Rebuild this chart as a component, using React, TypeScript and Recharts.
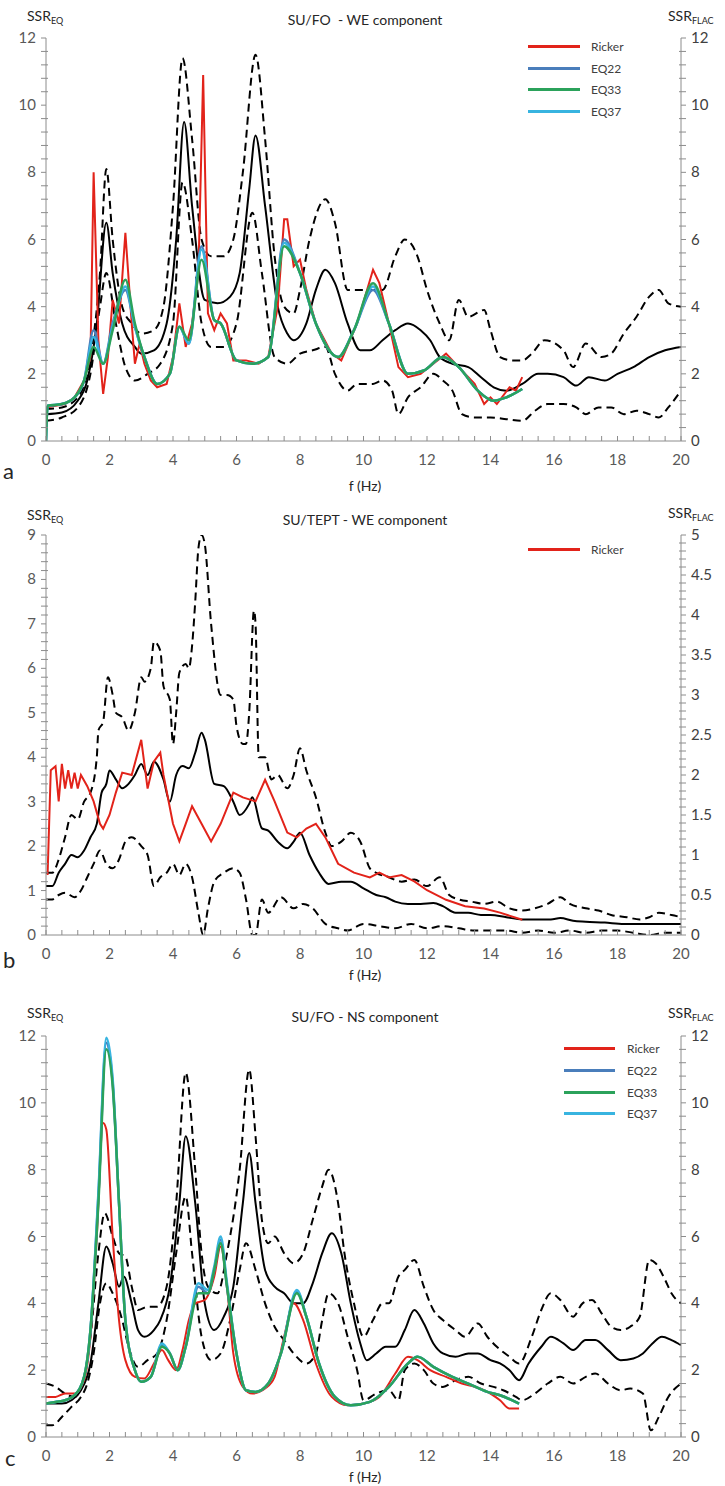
import React from 'react'
import { LineChart, Line, XAxis, YAxis, Legend } from 'recharts'

type Pt = [number, number]

// ---- panel a : SU/FO - WE component (SSR, 0..12 on both axes)
const aMean: Pt[] = [[0,0.8],[0.5,0.85],[1.0,1.2],[1.3,1.8],[1.6,3.5],[1.9,6.5],[2.1,5],[2.4,3.5],[2.8,2.8],[3.0,2.6],[3.4,2.7],[3.8,3.5],[4.1,6],[4.35,9.5],[4.6,7],[5.0,4.2],[5.4,4.1],[5.8,4.3],[6.1,5],[6.4,7.5],[6.6,9.1],[6.9,7],[7.3,4],[7.6,3.2],[7.8,3.0],[8.2,3.5],[8.5,4.5],[8.8,5.1],[9.1,4.7],[9.5,3.5],[9.9,2.7],[10.2,2.7],[10.6,3.0],[11.0,3.3],[11.4,3.5],[11.8,3.3],[12.1,3.0],[12.4,2.5],[12.8,2.3],[13.3,2.2],[13.7,1.9],[14.1,1.6],[14.5,1.5],[15.0,1.7],[15.5,2.0],[15.8,2.0],[16.3,1.9],[16.7,1.65],[17.1,1.9],[17.6,1.8],[18.0,2.0],[18.5,2.2],[19.0,2.5],[19.5,2.7],[20,2.8]]
const aUpper: Pt[] = [[0,0.95],[0.5,1.0],[1.0,1.3],[1.4,2.5],[1.7,5],[1.9,8.1],[2.1,6],[2.4,4],[2.7,3.5],[3.0,3.2],[3.4,3.3],[3.7,4],[4.0,7],[4.3,11.4],[4.6,9],[4.9,6],[5.2,5.5],[5.6,5.5],[5.9,6],[6.2,8],[6.6,11.5],[6.9,9],[7.2,5.5],[7.5,4],[7.8,3.8],[8.0,4.5],[8.3,6],[8.8,7.2],[9.1,6.5],[9.5,4.5],[10.2,4.5],[10.6,4.5],[11.0,5.5],[11.3,6.0],[11.7,5.5],[12.0,4.5],[12.4,3.5],[12.7,3],[13.0,4.2],[13.3,3.7],[13.8,3.9],[14.0,3.3],[14.3,2.5],[14.7,2.4],[15.0,2.4],[15.3,2.6],[15.7,3.0],[16.3,2.7],[16.6,2.2],[17.0,2.9],[17.5,2.5],[17.8,2.6],[18.2,3.2],[18.6,3.7],[19.0,4.3],[19.3,4.5],[19.6,4.1],[20,4.0]]
const aLower: Pt[] = [[0,0.6],[0.5,0.7],[1.0,1.0],[1.4,2.0],[1.7,4],[1.9,5],[2.2,3.5],[2.5,2.2],[2.8,1.8],[3.2,2.0],[3.6,2.3],[4.0,3.5],[4.3,7.7],[4.6,6],[4.9,3.5],[5.2,2.8],[5.6,2.8],[6.0,3.5],[6.5,6.8],[6.8,5],[7.2,2.5],[7.6,2.3],[8.0,2.6],[8.4,2.7],[8.8,2.8],[9.1,2.0],[9.5,1.5],[9.8,1.7],[10.3,1.7],[10.6,1.8],[10.9,1.5],[11.1,0.8],[11.4,1.3],[11.8,1.6],[12.2,2.0],[12.5,1.8],[12.8,1.5],[13.1,0.8],[13.5,0.7],[14.0,0.7],[14.5,0.65],[15.0,0.6],[15.4,0.9],[15.8,1.1],[16.3,1.1],[16.7,1.0],[17.0,0.8],[17.4,1.0],[17.8,1.0],[18.2,0.8],[18.6,0.9],[19.0,0.8],[19.3,0.7],[19.6,1.0],[20,1.5]]
const aRicker: Pt[] = [[0,1.0],[0.3,1.05],[0.6,1.1],[0.9,1.3],[1.2,1.8],[1.4,2.5],[1.5,8.0],[1.65,3],[1.8,1.4],[1.95,2.5],[2.1,4.2],[2.3,3.5],[2.5,6.2],[2.7,3.5],[2.8,2.3],[2.95,2.9],[3.1,2.3],[3.3,1.8],[3.5,1.6],[3.8,1.7],[4.0,2.5],[4.2,4.1],[4.4,2.8],[4.6,3.5],[4.8,5],[4.95,10.9],[5.1,3.8],[5.3,3.3],[5.5,3.8],[5.7,3.5],[5.9,2.4],[6.3,2.4],[6.7,2.3],[7.0,2.5],[7.3,4],[7.5,6.6],[7.6,6.6],[7.8,5.2],[8.0,5.4],[8.2,4.5],[8.5,3.5],[9.0,2.6],[9.3,2.4],[9.8,3.5],[10.3,5.1],[10.5,4.7],[10.8,3.5],[11.1,2.2],[11.4,1.9],[11.8,2.0],[12.2,2.3],[12.6,2.6],[13.0,2.2],[13.5,1.7],[13.8,1.1],[14.0,1.3],[14.2,1.1],[14.6,1.6],[14.8,1.5],[15.0,1.9]]
const aEq22: Pt[] = [[0,0],[0.05,1.05],[0.5,1.1],[0.9,1.3],[1.2,1.8],[1.5,3.3],[1.8,2.3],[2.1,3.5],[2.5,4.5],[2.8,3.4],[3.1,2.5],[3.5,1.7],[3.9,2.0],[4.2,3.4],[4.5,2.9],[4.9,5.8],[5.3,3.6],[5.5,3.5],[6.0,2.4],[6.5,2.3],[7.0,2.5],[7.5,6.0],[8.0,5.0],[8.5,3.5],[9.2,2.5],[9.7,3.3],[10.3,4.5],[10.8,3.5],[11.4,2.0],[11.9,2.1],[12.5,2.5],[13.0,2.2],[13.6,1.5],[14.1,1.2],[14.5,1.3],[15,1.55]]
const aEq33: Pt[] = [[0,0],[0.05,1.05],[0.5,1.1],[0.9,1.3],[1.2,1.8],[1.5,2.8],[1.8,2.3],[2.1,3.3],[2.5,4.8],[2.8,3.5],[3.1,2.5],[3.5,1.7],[3.9,2.0],[4.2,3.4],[4.5,3.0],[4.9,5.4],[5.3,3.6],[5.5,3.5],[6.0,2.4],[6.5,2.3],[7.0,2.5],[7.5,5.8],[8.0,5.0],[8.5,3.5],[9.2,2.5],[9.7,3.3],[10.3,4.7],[10.8,3.5],[11.4,2.0],[11.9,2.1],[12.5,2.5],[13.0,2.2],[13.6,1.5],[14.1,1.2],[14.5,1.3],[15,1.55]]
const aEq37: Pt[] = [[0,0],[0.05,1.05],[0.5,1.1],[0.9,1.3],[1.2,1.8],[1.5,3.1],[1.8,2.3],[2.1,3.4],[2.5,4.6],[2.8,3.4],[3.1,2.5],[3.5,1.7],[3.9,2.0],[4.2,3.4],[4.5,2.9],[4.9,5.7],[5.3,3.6],[5.5,3.5],[6.0,2.4],[6.5,2.3],[7.0,2.5],[7.5,5.9],[8.0,5.0],[8.5,3.5],[9.2,2.5],[9.7,3.3],[10.3,4.6],[10.8,3.5],[11.4,2.0],[11.9,2.1],[12.5,2.5],[13.0,2.2],[13.6,1.5],[14.1,1.2],[14.5,1.3],[15,1.55]]

// ---- panel b : SU/TEPT - WE component (SSR_EQ 0..9, SSR_FLAC 0..5)
const bMean: Pt[] = [[0,1.1],[0.2,1.1],[0.4,1.4],[0.6,1.6],[0.8,1.8],[1.0,1.75],[1.2,1.9],[1.4,2.2],[1.6,2.5],[1.75,3.2],[1.9,3.4],[2.0,3.7],[2.2,3.5],[2.4,3.3],[2.6,3.4],[2.8,3.6],[3.0,3.85],[3.2,3.6],[3.4,3.9],[3.7,3.5],[3.9,3.0],[4.1,3.6],[4.3,3.8],[4.5,3.75],[4.7,4.1],[4.9,4.55],[5.0,4.4],[5.3,3.4],[5.6,3.35],[5.9,3.0],[6.1,2.7],[6.4,2.95],[6.5,3.1],[6.8,2.4],[7.0,2.35],[7.3,2.1],[7.6,1.95],[7.8,2.1],[8.0,2.3],[8.3,1.8],[8.6,1.4],[8.9,1.15],[9.3,1.2],[9.6,1.2],[10.0,1.05],[10.4,0.9],[10.7,0.85],[11.0,0.75],[11.4,0.7],[11.8,0.7],[12.2,0.72],[12.5,0.65],[12.9,0.5],[13.3,0.5],[13.7,0.45],[14.0,0.45],[14.5,0.4],[15.0,0.35],[15.5,0.35],[15.9,0.35],[16.2,0.38],[16.6,0.32],[17.0,0.3],[17.6,0.28],[18.2,0.25],[19.0,0.25],[20,0.25]]
const bUpper: Pt[] = [[0,1.4],[0.2,1.4],[0.4,1.7],[0.6,2.2],[0.8,2.7],[1.0,2.6],[1.2,3.0],[1.4,3.2],[1.6,4.0],[1.65,4.6],[1.8,4.8],[1.95,5.8],[2.1,5.4],[2.2,5.0],[2.4,4.9],[2.6,4.6],[2.8,5.0],[3.0,5.8],[3.1,5.7],[3.3,6.0],[3.4,6.6],[3.6,6.4],[3.7,5.6],[3.9,5.3],[4.0,4.3],[4.1,5.0],[4.2,5.9],[4.4,6.1],[4.5,6.0],[4.6,6.5],[4.7,7.5],[4.8,8.7],[4.9,9.0],[5.0,8.8],[5.2,7.0],[5.5,5.4],[5.7,5.4],[5.9,5.3],[6.0,4.7],[6.2,4.3],[6.3,4.3],[6.4,5.0],[6.55,7.3],[6.6,7.0],[6.7,4.0],[6.9,4.0],[7.1,3.5],[7.3,3.6],[7.6,3.3],[7.8,3.6],[8.0,4.2],[8.2,3.7],[8.5,3.1],[8.8,2.3],[9.0,2.0],[9.3,2.1],[9.6,2.3],[9.9,2.1],[10.2,1.5],[10.4,1.4],[10.8,1.3],[11.2,1.2],[11.6,1.25],[12.0,1.1],[12.4,1.3],[12.7,0.9],[13.0,0.8],[13.4,0.75],[13.8,0.7],[14.2,0.75],[14.6,0.6],[15.0,0.55],[15.4,0.6],[15.8,0.7],[16.2,0.85],[16.5,0.7],[17.0,0.6],[17.4,0.55],[17.8,0.45],[18.3,0.4],[18.7,0.35],[19.0,0.4],[19.3,0.5],[19.7,0.45],[20,0.4]]
const bLower: Pt[] = [[0,0.8],[0.2,0.8],[0.4,0.9],[0.6,0.95],[0.9,0.85],[1.1,1.0],[1.3,1.3],[1.5,1.6],[1.7,1.9],[1.9,1.6],[2.1,1.5],[2.3,1.7],[2.5,2.1],[2.7,2.2],[3.0,2.0],[3.2,1.8],[3.4,1.1],[3.6,1.3],[3.8,1.4],[4.0,1.6],[4.2,1.35],[4.4,1.6],[4.6,1.3],[4.8,0.5],[4.95,0.0],[5.1,0.6],[5.3,1.2],[5.6,1.4],[5.9,1.5],[6.1,1.4],[6.3,0.8],[6.5,0.0],[6.6,0.0],[6.8,0.8],[7.0,0.5],[7.4,0.85],[7.8,0.6],[8.1,0.7],[8.4,0.6],[8.8,0.25],[9.2,0.15],[9.5,0.1],[10.0,0.25],[10.5,0.2],[11.0,0.15],[11.5,0.25],[12.0,0.15],[12.5,0.2],[13.0,0.15],[13.5,0.1],[14.0,0.1],[14.5,0.1],[15.0,0.05],[15.5,0.1],[16.0,0.05],[16.5,0.1],[17.0,0.05],[17.5,0.1],[18.0,0.1],[18.5,0.05],[19.0,0.0],[19.5,0.05],[20,0.05]]
// Ricker read on the SSR_FLAC (right) scale
const bRicker: Pt[] = [[0.05,0.75],[0.15,2.06],[0.3,2.11],[0.4,1.67],[0.5,2.14],[0.6,1.83],[0.7,2.06],[0.8,1.83],[0.9,2.03],[1.0,1.83],[1.1,2.0],[1.3,1.86],[1.5,1.67],[1.7,1.39],[1.8,1.33],[2.0,1.5],[2.2,1.78],[2.4,2.03],[2.7,2.0],[3.0,2.44],[3.2,1.83],[3.4,2.17],[3.6,2.28],[3.7,2.0],[4.0,1.39],[4.2,1.17],[4.4,1.39],[4.6,1.61],[4.9,1.39],[5.2,1.17],[5.5,1.39],[5.9,1.78],[6.2,1.72],[6.6,1.67],[6.9,1.94],[7.2,1.67],[7.6,1.28],[7.9,1.22],[8.2,1.33],[8.5,1.39],[8.8,1.22],[9.2,0.89],[9.7,0.78],[10.2,0.72],[10.5,0.78],[10.8,0.72],[11.2,0.75],[11.6,0.67],[12.0,0.56],[12.6,0.44],[13.2,0.36],[13.8,0.33],[14.3,0.28],[15.0,0.19]]

// ---- panel c : SU/FO - NS component (SSR, 0..12 on both axes)
const cMean: Pt[] = [[0,1.0],[0.5,1.0],[0.8,1.1],[1.1,1.4],[1.4,2.2],[1.65,4.0],[1.9,5.7],[2.1,5.2],[2.3,4.5],[2.45,4.8],[2.7,4.0],[2.9,3.2],[3.1,3.0],[3.4,3.2],[3.6,3.5],[3.9,4.5],[4.2,7.0],[4.4,9.0],[4.7,7],[5.0,4.0],[5.3,3.2],[5.6,3.6],[5.9,4.5],[6.2,7.0],[6.4,8.5],[6.6,7],[6.9,5],[7.2,4.5],[7.5,4.3],[7.8,4.0],[8.1,4.0],[8.4,4.6],[8.7,5.5],[9.0,6.1],[9.3,5.5],[9.6,4.0],[9.9,2.8],[10.1,2.3],[10.4,2.5],[10.7,2.7],[11.0,2.7],[11.3,3.2],[11.6,3.8],[11.9,3.4],[12.2,2.8],[12.5,2.5],[12.9,2.4],[13.3,2.5],[13.6,2.5],[14.0,2.3],[14.3,2.2],[14.6,2.0],[14.9,1.7],[15.2,2.2],[15.6,2.7],[15.9,3.0],[16.3,2.8],[16.6,2.6],[17.0,2.9],[17.3,2.9],[17.7,2.6],[18.1,2.3],[18.5,2.35],[18.8,2.5],[19.1,2.8],[19.4,3.0],[19.7,2.9],[20,2.75]]
const cUpper: Pt[] = [[0,1.6],[0.3,1.5],[0.6,1.3],[0.9,1.2],[1.2,1.8],[1.4,3.0],[1.65,5.5],[1.85,6.7],[2.1,6.0],[2.3,5.5],[2.5,5.4],[2.7,4.5],[2.9,3.8],[3.2,3.9],[3.5,3.9],[3.8,4.5],[4.1,7],[4.4,10.9],[4.7,8],[4.9,5.5],[5.1,4.5],[5.4,4.3],[5.7,5.5],[6.1,8],[6.4,11.0],[6.6,9],[6.8,6.5],[7.0,5.8],[7.2,6.0],[7.5,5.5],[7.8,5.2],[8.1,5.5],[8.4,6.5],[8.7,7.5],[8.9,8.0],[9.2,7],[9.4,5.5],[9.7,4.0],[10.0,3.0],[10.3,3.5],[10.6,4.0],[10.8,4.0],[11.1,4.8],[11.3,5.0],[11.6,5.3],[11.9,4.5],[12.2,3.8],[12.5,3.5],[12.9,3.2],[13.2,3.0],[13.6,3.4],[13.9,3.0],[14.2,2.7],[14.6,2.4],[14.9,2.2],[15.3,3.0],[15.6,3.8],[15.9,4.3],[16.2,4.1],[16.6,3.6],[16.9,4.0],[17.2,4.1],[17.5,3.7],[17.8,3.3],[18.1,3.2],[18.4,3.3],[18.7,3.6],[19.0,5.3],[19.2,5.2],[19.5,4.7],[19.7,4.3],[20,4.0]]
const cLower: Pt[] = [[0,0.35],[0.2,0.35],[0.5,0.6],[0.8,0.9],[1.1,1.2],[1.3,1.6],[1.5,2.5],[1.7,4.0],[1.9,4.6],[2.1,4.3],[2.4,3.5],[2.6,2.7],[2.9,2.1],[3.2,2.3],[3.5,2.5],[3.8,3.5],[4.1,5.5],[4.4,7.2],[4.6,5.5],[4.9,3.0],[5.2,2.3],[5.5,2.5],[5.8,3.5],[6.1,5.0],[6.3,5.8],[6.6,5.0],[6.9,4.0],[7.2,3.3],[7.5,2.9],[7.8,2.5],[8.2,2.2],[8.5,2.5],[8.7,3.5],[8.9,4.3],[9.2,4.0],[9.5,3.0],[9.8,2.0],[10.0,1.1],[10.4,1.3],[10.8,1.4],[11.1,1.1],[11.3,2.0],[11.6,2.2],[11.9,2.0],[12.2,1.6],[12.5,1.5],[12.9,1.7],[13.3,1.8],[13.7,1.6],[14.1,1.5],[14.4,1.4],[14.8,1.2],[15.0,1.1],[15.4,1.3],[15.8,1.6],[16.2,1.8],[16.6,1.6],[17.0,1.8],[17.3,1.9],[17.7,1.6],[18.1,1.4],[18.4,1.45],[18.8,1.3],[19.05,0.2],[19.3,0.6],[19.6,1.2],[20,1.6]]
const cRicker: Pt[] = [[0,1.2],[0.3,1.2],[0.6,1.3],[0.9,1.3],[1.2,1.7],[1.4,3.0],[1.6,6.0],[1.8,9.4],[1.9,9.2],[2.1,6.0],[2.3,3.5],[2.5,2.3],[2.8,1.8],[3.1,1.75],[3.4,2.2],[3.65,2.6],[3.85,2.3],[4.1,2.0],[4.3,2.6],[4.5,3.5],[4.7,4.0],[5.0,4.1],[5.3,4.8],[5.5,5.7],[5.7,4.5],[5.9,2.5],[6.2,1.5],[6.5,1.3],[6.9,1.45],[7.2,1.8],[7.5,3.0],[7.8,4.0],[8.1,3.5],[8.5,2.2],[9.0,1.2],[9.5,0.95],[10.0,1.0],[10.5,1.2],[11.0,1.9],[11.4,2.4],[11.7,2.3],[12.1,2.0],[12.6,1.8],[13.1,1.6],[13.5,1.5],[13.8,1.4],[14.3,1.1],[14.6,0.85],[14.9,0.85]]
const cEq22: Pt[] = [[0,1.0],[0.3,1.05],[0.6,1.1],[0.9,1.25],[1.2,1.8],[1.4,3.2],[1.65,7.2],[1.9,11.8],[2.1,10.6],[2.3,7],[2.5,3.5],[2.8,2.0],[3.0,1.65],[3.3,1.8],[3.65,2.75],[3.9,2.5],[4.15,2.0],[4.4,2.7],[4.8,4.5],[5.1,4.3],[5.3,5.0],[5.5,5.9],[5.7,4.5],[6.0,2.5],[6.3,1.4],[6.6,1.35],[7.0,1.6],[7.4,2.5],[7.9,4.35],[8.2,3.6],[8.6,2.2],[9.1,1.2],[9.6,0.95],[10.2,1.05],[10.8,1.5],[11.4,2.2],[11.7,2.4],[12.2,2.1],[12.8,1.8],[13.3,1.6],[13.9,1.35],[14.3,1.25],[14.9,1.0]]
const cEq33: Pt[] = [[0,1.0],[0.3,1.05],[0.6,1.1],[0.9,1.25],[1.2,1.8],[1.4,3.2],[1.65,7],[1.9,11.6],[2.1,10.5],[2.3,7],[2.5,3.5],[2.8,2.0],[3.0,1.65],[3.3,1.8],[3.65,2.7],[3.9,2.5],[4.15,2.0],[4.4,2.7],[4.8,4.3],[5.1,4.3],[5.3,5.0],[5.5,5.8],[5.7,4.5],[6.0,2.5],[6.3,1.4],[6.6,1.35],[7.0,1.6],[7.4,2.5],[7.9,4.3],[8.2,3.6],[8.6,2.2],[9.1,1.2],[9.6,0.95],[10.2,1.05],[10.8,1.5],[11.4,2.2],[11.7,2.4],[12.2,2.1],[12.8,1.8],[13.3,1.6],[13.9,1.35],[14.3,1.25],[14.9,1.0]]
const cEq37: Pt[] = [[0,1.0],[0.3,1.05],[0.6,1.1],[0.9,1.25],[1.2,1.8],[1.4,3.2],[1.65,7.3],[1.9,11.95],[2.1,10.7],[2.3,7],[2.5,3.5],[2.8,2.0],[3.0,1.65],[3.3,1.8],[3.65,2.8],[3.9,2.5],[4.15,2.0],[4.4,2.7],[4.8,4.6],[5.1,4.4],[5.3,5.1],[5.5,6.0],[5.7,4.6],[6.0,2.5],[6.3,1.4],[6.6,1.35],[7.0,1.6],[7.4,2.5],[7.9,4.4],[8.2,3.6],[8.6,2.2],[9.1,1.2],[9.6,0.95],[10.2,1.05],[10.8,1.5],[11.4,2.2],[11.7,2.4],[12.2,2.1],[12.8,1.8],[13.3,1.6],[13.9,1.35],[14.3,1.25],[14.9,1.0]]

const RED = '#e2231a'
const EQ22 = '#4a7ebb'
const EQ33 = '#2ba25b'
const EQ37 = '#38b4e0'
const AX = '#8c8c8c'
const TXT = '#595959'
const FONT = 'Lato, "Open Sans", sans-serif'

const rows = (pts: Pt[]) => pts.map(([f, v]) => ({ f, v }))

const steps = (max: number, step: number) => {
  const out: number[] = []
  for (let i = 0; i * step <= max + 1e-9; i++) out.push(Math.round(i * step * 100) / 100)
  return out
}
const isMajor = (v: number, major: number) => Math.abs(v / major - Math.round(v / major)) < 1e-6

const xTicks = steps(20, 0.5)

function XTick(props: any) {
  const { x, y, payload } = props
  const v = payload.value
  return (
    <g>
      <line x1={x} x2={x} y1={y} y2={y - 5} stroke={AX} />
      {isMajor(v, 2) && (
        <text x={x} y={y + 24} textAnchor="middle" fill={TXT} fontSize={15} fontFamily={FONT}>{v}</text>
      )}
    </g>
  )
}

function YTick(props: any) {
  const { x, y, payload, side, major } = props
  const v = payload.value
  const big = isMajor(v, major)
  const dir = side === 'left' ? -1 : 1
  return (
    <g>
      <line x1={big ? x : x - dir * 2} x2={x + dir * 5} y1={y} y2={y} stroke={AX} />
      {big && (
        <text x={x + dir * 10} y={y + 5} textAnchor={side === 'left' ? 'end' : 'start'} fill={side === 'left' ? TXT : '#404040'} fontSize={15} fontFamily={FONT}>{v}</text>
      )}
    </g>
  )
}

type Series = { id: string; pts: Pt[]; color: string; width: number; dash?: string; axis?: string; legend?: boolean; smooth?: boolean }
type AxisSpec = { max: number; major: number; minor: number }
type LegendSpec = { left: number; top: number; lineW: number; gap: number; rowH: number }

function LegendBox({ payload, spec }: any) {
  const order = ['Ricker', 'EQ22', 'EQ33', 'EQ37']
  const items = (payload || []).filter((p: any) => order.includes(p.value))
  items.sort((a: any, b: any) => order.indexOf(a.value) - order.indexOf(b.value))
  return (
    <div style={{ fontFamily: FONT, fontSize: 12, color: '#404040' }}>
      {items.map((p: any) => (
        <div key={p.value} style={{ display: 'flex', alignItems: 'center', height: spec.rowH }}>
          <div style={{ width: spec.lineW, height: 3, background: p.color }} />
          <span style={{ marginLeft: spec.gap }}>{p.value}</span>
        </div>
      ))}
    </div>
  )
}

function Panel({ height, mTop, xh, left, right, series, legend }: { height: number; mTop: number; xh: number; left: AxisSpec; right: AxisSpec; series: Series[]; legend: LegendSpec }) {
  return (
    <LineChart width={725} height={height} margin={{ top: mTop, right: 0, bottom: 0, left: 0 }}>
      <XAxis dataKey="f" type="number" domain={[0, 20]} ticks={xTicks} interval={0} allowDataOverflow
        height={xh} tickSize={0} tickMargin={0} axisLine={{ stroke: AX }} tick={(p: any) => <XTick {...p} />} />
      <YAxis yAxisId="left" orientation="left" width={46} type="number" domain={[0, left.max]} allowDataOverflow
        ticks={steps(left.max, left.minor)} interval={0} tickSize={0} tickMargin={0} axisLine={{ stroke: AX }}
        tick={(p: any) => <YTick {...p} side="left" major={left.major} />} />
      <YAxis yAxisId="right" orientation="right" width={44} type="number" domain={[0, right.max]} allowDataOverflow
        ticks={steps(right.max, right.minor)} interval={0} tickSize={0} tickMargin={0} axisLine={{ stroke: AX }}
        tick={(p: any) => <YTick {...p} side="right" major={right.major} />} />
      <Legend layout="vertical" align="center" verticalAlign="middle"
        wrapperStyle={{ left: legend.left, top: legend.top, width: 120, height: 'auto' }}
        content={(p: any) => <LegendBox payload={p.payload} spec={legend} />} />
      {series.map((s) => (
        <Line key={s.id} name={s.id} data={rows(s.pts)} dataKey="v" yAxisId={s.axis || 'left'}
          type={s.smooth ? 'monotone' : 'linear'}
          stroke={s.color} strokeWidth={s.width} strokeDasharray={s.dash} dot={false}
          legendType={s.legend ? 'line' : 'none'} isAnimationActive={false} />
      ))}
    </LineChart>
  )
}

function Sub({ main, sub }: { main: string; sub: string }) {
  return (
    <span>{main}<span style={{ fontSize: 9, verticalAlign: -3 }}>{sub}</span></span>
  )
}

function Txt({ x, y, children, size = 14, center = false, color = '#262626' }: any) {
  return (
    <div style={{ position: 'absolute', left: x, top: y, transform: center ? 'translate(-50%,-50%)' : 'translateY(-50%)', fontFamily: FONT, fontSize: size, color, whiteSpace: 'pre', lineHeight: 1 }}>
      {children}
    </div>
  )
}

const black = (id: string, pts: Pt[], dashed: boolean): Series => ({ id, pts, color: '#000', width: 2, dash: dashed ? '8 5' : undefined, smooth: true })
const eq = (id: string, pts: Pt[], color: string): Series => ({ id, pts, color, width: 2.5, legend: true, smooth: true })

export default function App() {
  const axis12: AxisSpec = { max: 12, major: 2, minor: 0.4 }
  return (
    <div style={{ position: 'relative', width: 725, height: 1486, background: '#fff' }}>
      <style>{'body{margin:0}'}</style>

      <div style={{ position: 'absolute', left: 0, top: 0 }}>
        <Panel height={495} mTop={38} xh={54} left={axis12} right={axis12}
          legend={{ left: 528, top: 36, lineW: 52, gap: 11, rowH: 21.5 }}
          series={[
            black('aUpper', aUpper, true), black('aLower', aLower, true), black('aMean', aMean, false),
            { id: 'Ricker', pts: aRicker, color: RED, width: 2, legend: true },
            eq('EQ22', aEq22, EQ22), eq('EQ37', aEq37, EQ37), eq('EQ33', aEq33, EQ33),
          ]} />
      </div>
      <Txt x={27} y={17}><Sub main="SSR" sub="EQ" /></Txt>
      <Txt x={365} y={20} center>{'SU/FO  - WE component'}</Txt>
      <Txt x={668} y={17}><Sub main="SSR" sub="FLAC" /></Txt>
      <Txt x={3} y={471} size={22}>a</Txt>
      <Txt x={365} y={486} center>f (Hz)</Txt>

      <div style={{ position: 'absolute', left: 0, top: 495 }}>
        <Panel height={495} mTop={40} xh={55} left={{ max: 9, major: 1, minor: 0.2 }} right={{ max: 5, major: 0.5, minor: 0.1 }}
          legend={{ left: 528, top: 44, lineW: 52, gap: 11, rowH: 21.5 }}
          series={[
            black('bUpper', bUpper, true), black('bLower', bLower, true), black('bMean', bMean, false),
            { id: 'Ricker', pts: bRicker, color: RED, width: 2, axis: 'right', legend: true },
          ]} />
      </div>
      <Txt x={27} y={516}><Sub main="SSR" sub="EQ" /></Txt>
      <Txt x={365} y={520} center>SU/TEPT - WE component</Txt>
      <Txt x={668} y={514}><Sub main="SSR" sub="FLAC" /></Txt>
      <Txt x={3} y={960} size={22}>b</Txt>
      <Txt x={365} y={975} center>f (Hz)</Txt>

      <div style={{ position: 'absolute', left: 0, top: 990 }}>
        <Panel height={496} mTop={46} xh={49} left={axis12} right={axis12}
          legend={{ left: 564, top: 48, lineW: 51, gap: 12, rowH: 21.7 }}
          series={[
            black('cUpper', cUpper, true), black('cLower', cLower, true), black('cMean', cMean, false),
            { id: 'Ricker', pts: cRicker, color: RED, width: 2, legend: true, smooth: true },
            eq('EQ22', cEq22, EQ22), eq('EQ37', cEq37, EQ37), eq('EQ33', cEq33, EQ33),
          ]} />
      </div>
      <Txt x={27} y={1014}><Sub main="SSR" sub="EQ" /></Txt>
      <Txt x={365} y={1017} center>SU/FO - NS component</Txt>
      <Txt x={668} y={1014}><Sub main="SSR" sub="FLAC" /></Txt>
      <Txt x={5} y={1458} size={22}>c</Txt>
      <Txt x={365} y={1477} center>f (Hz)</Txt>
    </div>
  )
}
